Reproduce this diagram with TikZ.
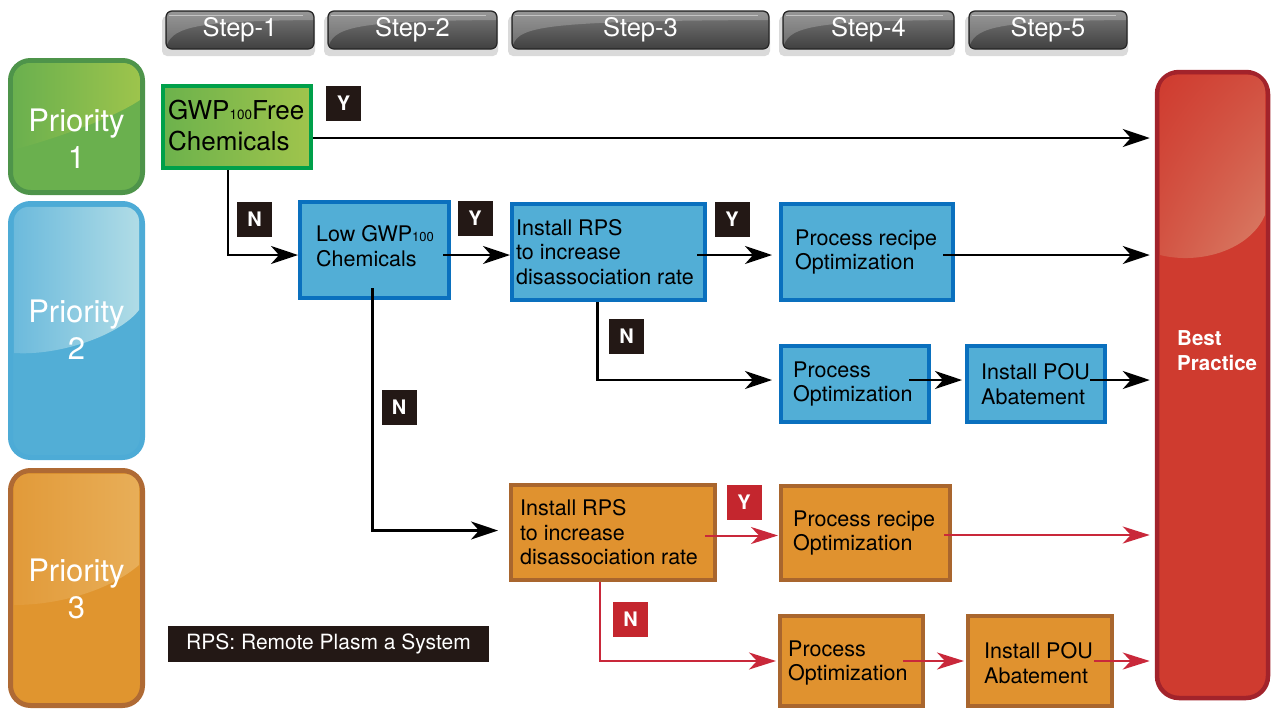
\documentclass[tikz,border=0pt]{standalone}
\usepackage{fontspec}
\setmainfont{TeX Gyre Heros}
\usetikzlibrary{arrows.meta,positioning,calc,shadings}
\definecolor{tabdark}{HTML}{404040}
\definecolor{tablight}{HTML}{7A7A7A}
\definecolor{tabedge}{HTML}{262626}
\definecolor{tabshadow}{HTML}{DADADA}
\definecolor{p1fill}{HTML}{6AB04E}
\definecolor{p1edge}{HTML}{4E944A}
\definecolor{p1gloss}{HTML}{9DC44C}
\definecolor{p2fill}{HTML}{52AED6}
\definecolor{p2edge}{HTML}{4DABD6}
\definecolor{p2gloss}{HTML}{B0DCE6}
\definecolor{p3fill}{HTML}{E0952F}
\definecolor{p3edge}{HTML}{AF6A34}
\definecolor{p3gloss}{HTML}{E8AE58}
\definecolor{gfillL}{HTML}{6CB24C}
\definecolor{gfillR}{HTML}{A0C44C}
\definecolor{gedge}{HTML}{00A04A}
\definecolor{bfill}{HTML}{52AED6}
\definecolor{bedge}{HTML}{0A70BE}
\definecolor{ofill}{HTML}{E0922F}
\definecolor{oedge}{HTML}{A9662E}
\definecolor{bpfill}{HTML}{CF3B2F}
\definecolor{bpedge}{HTML}{A2232B}
\definecolor{bpgloss}{HTML}{D98068}
\definecolor{lblred}{HTML}{C4262E}
\definecolor{arrred}{HTML}{C9283A}
\definecolor{lbldark}{HTML}{231815}
\tikzset{
  tab/.style={draw=tabedge, line width=1.2pt, rounded corners=6pt, top color=tablight, bottom color=tabdark,
    inner sep=0pt},
  tabtext/.style={text=white, font=\fontsize{25.5}{25.5}\selectfont, inner sep=0pt},
  prio/.style={rounded corners=20pt, line width=5pt, inner sep=0pt},
  prtext/.style={text=white, align=center, font=\fontsize{31}{37}\selectfont, inner sep=0pt},
  procbox/.style={rectangle, line width=4pt, inner sep=0pt},
  bluebox/.style={procbox, draw=bedge, fill=bfill},
  orangebox/.style={procbox, draw=oedge, fill=ofill},
  txt/.style={anchor=west, align=left, inner sep=0pt, text=black, font=\fontsize{21.5}{24.5}\selectfont},
  yn/.style={fill=lbldark, text=white, font=\bfseries\fontsize{20}{20}\selectfont, minimum width=35pt, minimum height=35pt, inner sep=0pt},
  ynred/.style={yn, fill=lblred},
  arr/.style={line width=2.4pt, -{Stealth[length=27pt,width=18pt,inset=8pt]}},
  rarr/.style={line width=2pt, draw=arrred, -{Stealth[length=27pt,width=17pt,inset=8pt]}, color=arrred},
}
\begin{document}
\begin{tikzpicture}[x=1pt,y=-1pt]
\useasboundingbox (0,0) rectangle (1272,713);
% ---- step tabs ----
\foreach \xa/\xb/\nm/\lab in {163/317/s1/Step-1, 325/500/s2/Step-2, 509/772/s3/Step-3, 780/957/s4/Step-4, 966/1130/s5/Step-5}{
  \fill[tabshadow, rounded corners=5pt] (\xa-1,16) rectangle (\xb-2,56);
  \node[tab, minimum width=\xb-\xa-6, minimum height=38pt] (\nm) at ({(\xa+\xb)/2},30) {};
  \begin{scope}
  \clip[rounded corners=5pt] (\xa+4,12) rectangle (\xb-4,48);
  \fill[white, opacity=0.22] (\xa+4,45) .. controls (\xa+10,26) and (\xa+40,21) .. (\xb-4,20) -- (\xb-4,12) -- (\xa+4,12) -- cycle;
  \draw[white, opacity=0.45, line width=0.8pt] (\xa+6,15) -- (\xb-14,15);
  \end{scope}
  \node[tabtext] (\nm t) at ({(\xa+\xb)/2},30) {\lab};
}
% ---- priority boxes ----
\node[prio, draw=p1edge, fill=p1fill, minimum width=132pt, minimum height=132pt] (p1) at (76.5,126.5) {};
\begin{scope}
\clip[rounded corners=17pt] (13,63) rectangle (140,190);
\shade[left color=p1fill, right color=p1gloss] (13,150) .. controls (50,140) and (110,120) .. (140,100) -- (140,63) -- (13,63) -- cycle;
\end{scope}
\node[prio, draw=p2edge, fill=p2fill, minimum width=132pt, minimum height=254pt] (p2) at (76.5,330.5) {};
\begin{scope}
\clip[rounded corners=14pt] (14,207) rectangle (139,455);
\shade[left color=p2fill!85!white, right color=p2gloss] (14,207) -- (139,207) -- (139,310) .. controls (120,335) and (60,356) .. (14,353) -- cycle;
\end{scope}
\node[prio, draw=p3edge, fill=p3fill, minimum width=132pt, minimum height=235pt] (p3) at (76.5,588) {};
\begin{scope}
\clip[rounded corners=14pt] (14,474) rectangle (139,702);
\shade[left color=p3fill!95!white, right color=p3gloss] (14,474) -- (139,474) -- (139,565) .. controls (110,590) and (60,605) .. (14,605) -- cycle;
\end{scope}
\node[prtext] (p1t) at (76.5,139) {Priority\\1};
\node[prtext] (p2t) at (76.5,330) {Priority\\2};
\node[prtext] (p3t) at (76.5,589) {Priority\\3};
% ---- best practice ----
\node[rectangle, rounded corners=22pt, line width=4.5pt, draw=bpedge, fill=bpfill, minimum width=111pt, minimum height=626pt] (best) at (1212.5,385) {};
\begin{scope}
\clip[rounded corners=16pt] (1160,75) rectangle (1265,695);
\shade[upper left=bpfill, lower right=bpgloss, upper right=bpfill!70!bpgloss, lower left=bpfill!60!bpgloss] (1160,75) -- (1265,75) -- (1265,215) .. controls (1250,250) and (1200,265) .. (1160,255) -- cycle;
\end{scope}
\node[anchor=west, text=white, align=left, font=\bfseries\fontsize{20.5}{25}\selectfont, inner sep=0pt] (bptext) at (1177,351) {Best\\Practice};
% ---- process boxes ----
\node[procbox, draw=gedge, left color=gfillL, right color=gfillR, minimum width=148pt, minimum height=82pt] (gwp) at (237,127) {};
\node[txt, font=\fontsize{26}{31}\selectfont] (gwpt) at ([xshift=7pt,yshift=1pt]gwp.west) {GWP{\fontsize{13.5}{13}\selectfont 100}Free\\Chemicals};
\node[bluebox, minimum width=149pt, minimum height=96pt] (low) at (374.5,250) {};
\node[txt] (lowt) at ([xshift=18pt,yshift=4pt]low.west) {Low GWP{\fontsize{13}{13}\selectfont 100}\\Chemicals};
\node[bluebox, minimum width=193pt, minimum height=96pt] (brps) at (608.5,252) {};
\node[txt] (brpst) at ([xshift=6pt]brps.west) {Install RPS\\to increase\\disassociation rate};
\node[bluebox, minimum width=172pt, minimum height=96pt] (brec) at (867,252) {};
\node[txt] (brect) at ([xshift=16pt]brec.west) {Process recipe\\Optimization};
\node[bluebox, minimum width=148pt, minimum height=76pt] (bpo) at (855,384) {};
\node[txt] (bpot) at ([xshift=14pt]bpo.west) {Process\\Optimization};
\node[bluebox, minimum width=138pt, minimum height=76pt] (bpou) at (1036,384) {};
\node[txt] (bpout) at ([xshift=16pt]bpou.west) {Install POU\\Abatement};
\node[orangebox, minimum width=204pt, minimum height=95pt] (orps) at (613,532.5) {};
\node[txt] (orpst) at ([xshift=11pt]orps.west) {Install RPS\\to increase\\disassociation rate};
\node[orangebox, minimum width=169pt, minimum height=94pt] (orec) at (865.5,533) {};
\node[txt] (orect) at ([xshift=14pt]orec.west) {Process recipe\\Optimization};
\node[orangebox, minimum width=143pt, minimum height=90pt] (opo) at (851.5,661) {};
\node[txt] (opot) at ([xshift=10pt,yshift=-2pt]opo.west) {Process\\Optimization};
\node[orangebox, minimum width=144pt, minimum height=90pt] (opou) at (1040,661) {};
\node[txt] (opout) at ([xshift=18pt,yshift=-2pt]opou.west) {Install POU\\Abatement};
% ---- Y / N labels ----
\node[yn] (y1) at (343.5,103) {Y};
\node[yn] (n1) at (254.5,219.5) {N};
\node[yn] (y2) at (475,218) {Y};
\node[yn] (y3) at (732,219) {Y};
\node[yn] (n2) at (626.5,336.5) {N};
\node[yn] (n3) at (399,407) {N};
\node[ynred] (y4) at (744,502.5) {Y};
\node[ynred] (n4) at (630.5,619) {N};
% ---- legend ----
\node[fill=lbldark, text=white, font=\fontsize{21}{21}\selectfont, minimum width=321pt, minimum height=36pt, inner sep=0pt] (legend) at (328.5,644) {RPS: Remote Plasm a System};
% ---- connectors ----
\draw[arr] ([yshift=-11pt]gwp.east) -- ([yshift=-11pt,xshift=-5pt]gwp.east -| best.west);
\draw[arr] ([xshift=-9pt]gwp.south) |- ([yshift=-5pt]low.west);
\draw[arr] ([xshift=-8pt,yshift=-5pt]low.east) -- ([yshift=-5pt]low.east -| brps.west);
\draw[arr] ([xshift=-10pt,yshift=-3pt]brps.east) -- ([xshift=-7pt,yshift=-3pt]brps.east -| brec.west);
\draw[arr] ([xshift=-12pt,yshift=-3pt]brec.east) -- ([xshift=-5pt,yshift=-3pt]brec.east -| best.west);
\draw[arr] ([xshift=-2pt,yshift=12pt]low.south) |- ([xshift=-11pt,yshift=2pt]orps.west);
\draw[arr] ([xshift=-11pt]brps.south) |- ([xshift=-7pt,yshift=4pt]bpo.west);
\draw[arr] ([xshift=-22pt,yshift=4pt]bpo.east) -- ([xshift=-3pt,yshift=4pt]bpou.west);
\draw[arr] ([xshift=-17pt,yshift=4pt]bpou.east) -- ([xshift=-5pt,yshift=4pt]bpou.east -| best.west);
\draw[rarr] ([xshift=-12pt,yshift=-3pt]orps.east) -- ([xshift=-1pt,yshift=-3pt]orps.east -| orec.west);
\draw[rarr] ([xshift=-8pt,yshift=-2pt]orec.east) -- ([xshift=-5pt,yshift=-2pt]orec.east -| best.west);
\draw[rarr] ([xshift=-13pt]orps.south) |- ([xshift=-2pt]opo.west);
\draw[rarr] ([xshift=-22pt]opo.east) -- ([xshift=-2pt]opou.west);
\draw[rarr] ([xshift=-20pt]opou.east) -- ([xshift=-5pt]opou.east -| best.west);
\end{tikzpicture}
\end{document}
